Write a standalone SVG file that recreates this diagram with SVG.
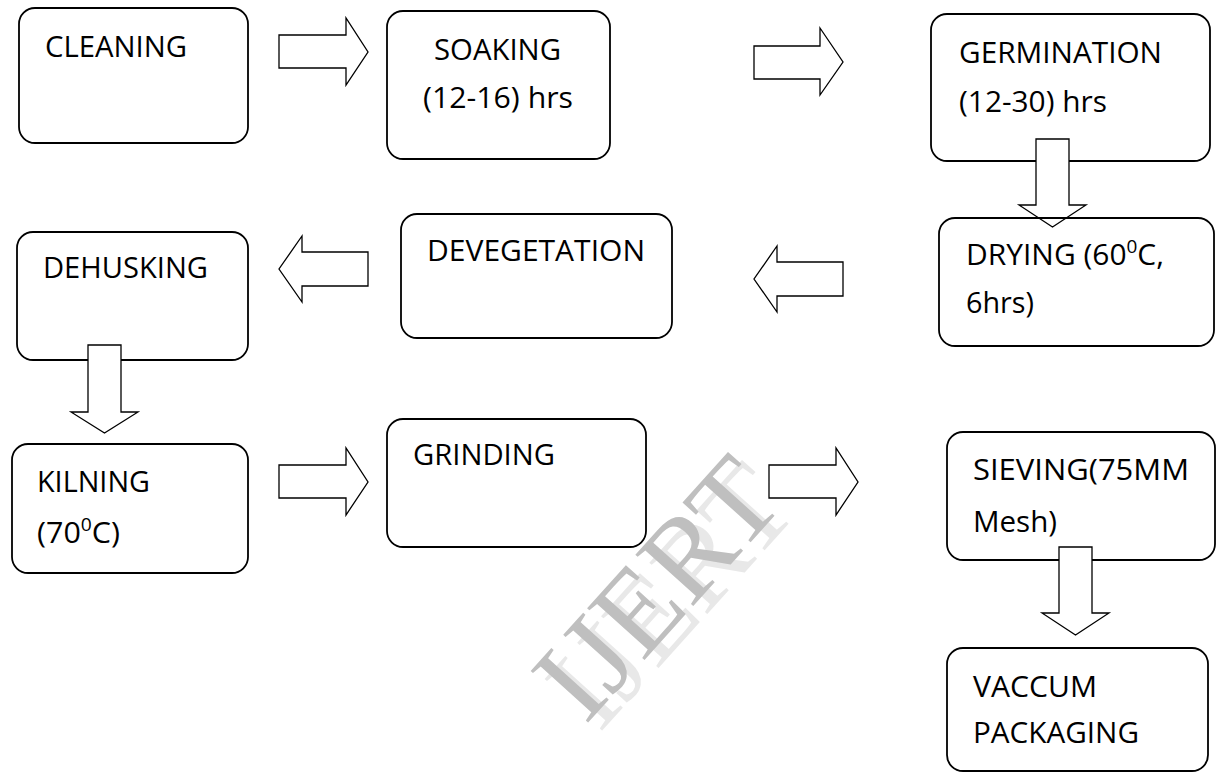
<svg xmlns="http://www.w3.org/2000/svg" width="1217" height="773" viewBox="0 0 1217 773">
<style>
.box{fill:none;stroke:#000;stroke-width:1.8}
.arr{fill:#fff;stroke:#000;stroke-width:1.3;stroke-linejoin:miter}
.t{font-family:"Open Sans","Liberation Sans",sans-serif;font-size:30px;fill:#000}
.sup{font-size:19px}
.wm{font-family:"Liberation Serif","Times New Roman",serif;font-size:118px}
</style>
<rect width="1217" height="773" fill="#fff"/>
<g id="watermark">
<text class="wm" fill="#e8e8e8" text-anchor="middle" transform="translate(700,622) rotate(-48)">IJERT</text>
<text class="wm" fill="#bfbfbf" text-anchor="middle" transform="translate(686,614) rotate(-48)">IJERT</text>
</g>
<g id="cleaning"><rect class="box" x="19" y="8" width="229" height="135" rx="16"/><text class="t" x="45" y="57" textLength="142" lengthAdjust="spacingAndGlyphs">CLEANING</text></g>
<g id="soaking"><rect class="box" x="387" y="11" width="223" height="148" rx="16"/><text class="t" x="434" y="60" textLength="127" lengthAdjust="spacingAndGlyphs">SOAKING</text><text class="t" x="423" y="108" textLength="150" lengthAdjust="spacingAndGlyphs">(12-16) hrs</text></g>
<g id="germination"><rect class="box" x="931" y="14" width="279" height="147" rx="16"/><text class="t" x="959" y="63" textLength="203" lengthAdjust="spacingAndGlyphs">GERMINATION</text><text class="t" x="959" y="112" textLength="148" lengthAdjust="spacingAndGlyphs">(12-30) hrs</text></g>
<g id="dehusking"><rect class="box" x="17" y="232" width="231" height="128" rx="16"/><text class="t" x="43" y="278" textLength="165" lengthAdjust="spacingAndGlyphs">DEHUSKING</text></g>
<g id="devegetation"><rect class="box" x="401" y="214" width="271" height="124" rx="16"/><text class="t" x="427" y="261" textLength="218" lengthAdjust="spacingAndGlyphs">DEVEGETATION</text></g>
<g id="kilning"><rect class="box" x="12" y="444" width="236" height="129" rx="16"/><text class="t" x="37" y="492" textLength="113" lengthAdjust="spacingAndGlyphs">KILNING</text><text class="t" x="37" y="543" textLength="83" lengthAdjust="spacingAndGlyphs">(70<tspan class="sup" dy="-12">0</tspan><tspan dy="12">C)</tspan></text></g>
<g id="grinding"><rect class="box" x="387" y="419" width="259" height="128" rx="16"/><text class="t" x="413" y="465" textLength="142" lengthAdjust="spacingAndGlyphs">GRINDING</text></g>
<g id="sieving"><rect class="box" x="947" y="432" width="268" height="128" rx="16"/><text class="t" x="973" y="480" textLength="216" lengthAdjust="spacingAndGlyphs">SIEVING(75MM</text><text class="t" x="973" y="532" textLength="84" lengthAdjust="spacingAndGlyphs">Mesh)</text></g>
<g id="vaccum-packaging"><rect class="box" x="947" y="648" width="261" height="123" rx="16"/><text class="t" x="973" y="697" textLength="124" lengthAdjust="spacingAndGlyphs">VACCUM</text><text class="t" x="973" y="743" textLength="166" lengthAdjust="spacingAndGlyphs">PACKAGING</text></g>
<g id="connectors">
<polygon class="arr" points="279,35 346,35 346,18 368,52 346,85 346,68 279,68"/>
<polygon class="arr" points="754,46 820,46 820,28 843,62 820,95 820,79 754,79"/>
<polygon class="arr" points="1036,139 1069,139 1069,205 1086,205 1052.5,227 1019,205 1036,205"/>
<polygon class="arr" points="843,262 777,262 777,246 754,279 777,312 777,296 843,296"/>
<polygon class="arr" points="368,252 302,252 302,236 279,269 302,302 302,286 368,286"/>
<polygon class="arr" points="88,345 121,345 121,412 138,412 104.5,433 71,412 88,412"/>
<polygon class="arr" points="279,465 346,465 346,448 368,482 346,515 346,498 279,498"/>
<polygon class="arr" points="769,465 836,465 836,448 858,482 836,515 836,498 769,498"/>
<polygon class="arr" points="1059,547 1092,547 1092,613 1109,613 1075.5,635 1042,613 1059,613"/>
</g>
<g id="drying"><rect class="box" x="939" y="218" width="275" height="128" rx="16"/><text class="t" x="966" y="265" textLength="198" lengthAdjust="spacingAndGlyphs">DRYING (60<tspan class="sup" dy="-12">0</tspan><tspan dy="12">C,</tspan></text><text class="t" x="966" y="313" textLength="68" lengthAdjust="spacingAndGlyphs">6hrs)</text></g>
</svg>
